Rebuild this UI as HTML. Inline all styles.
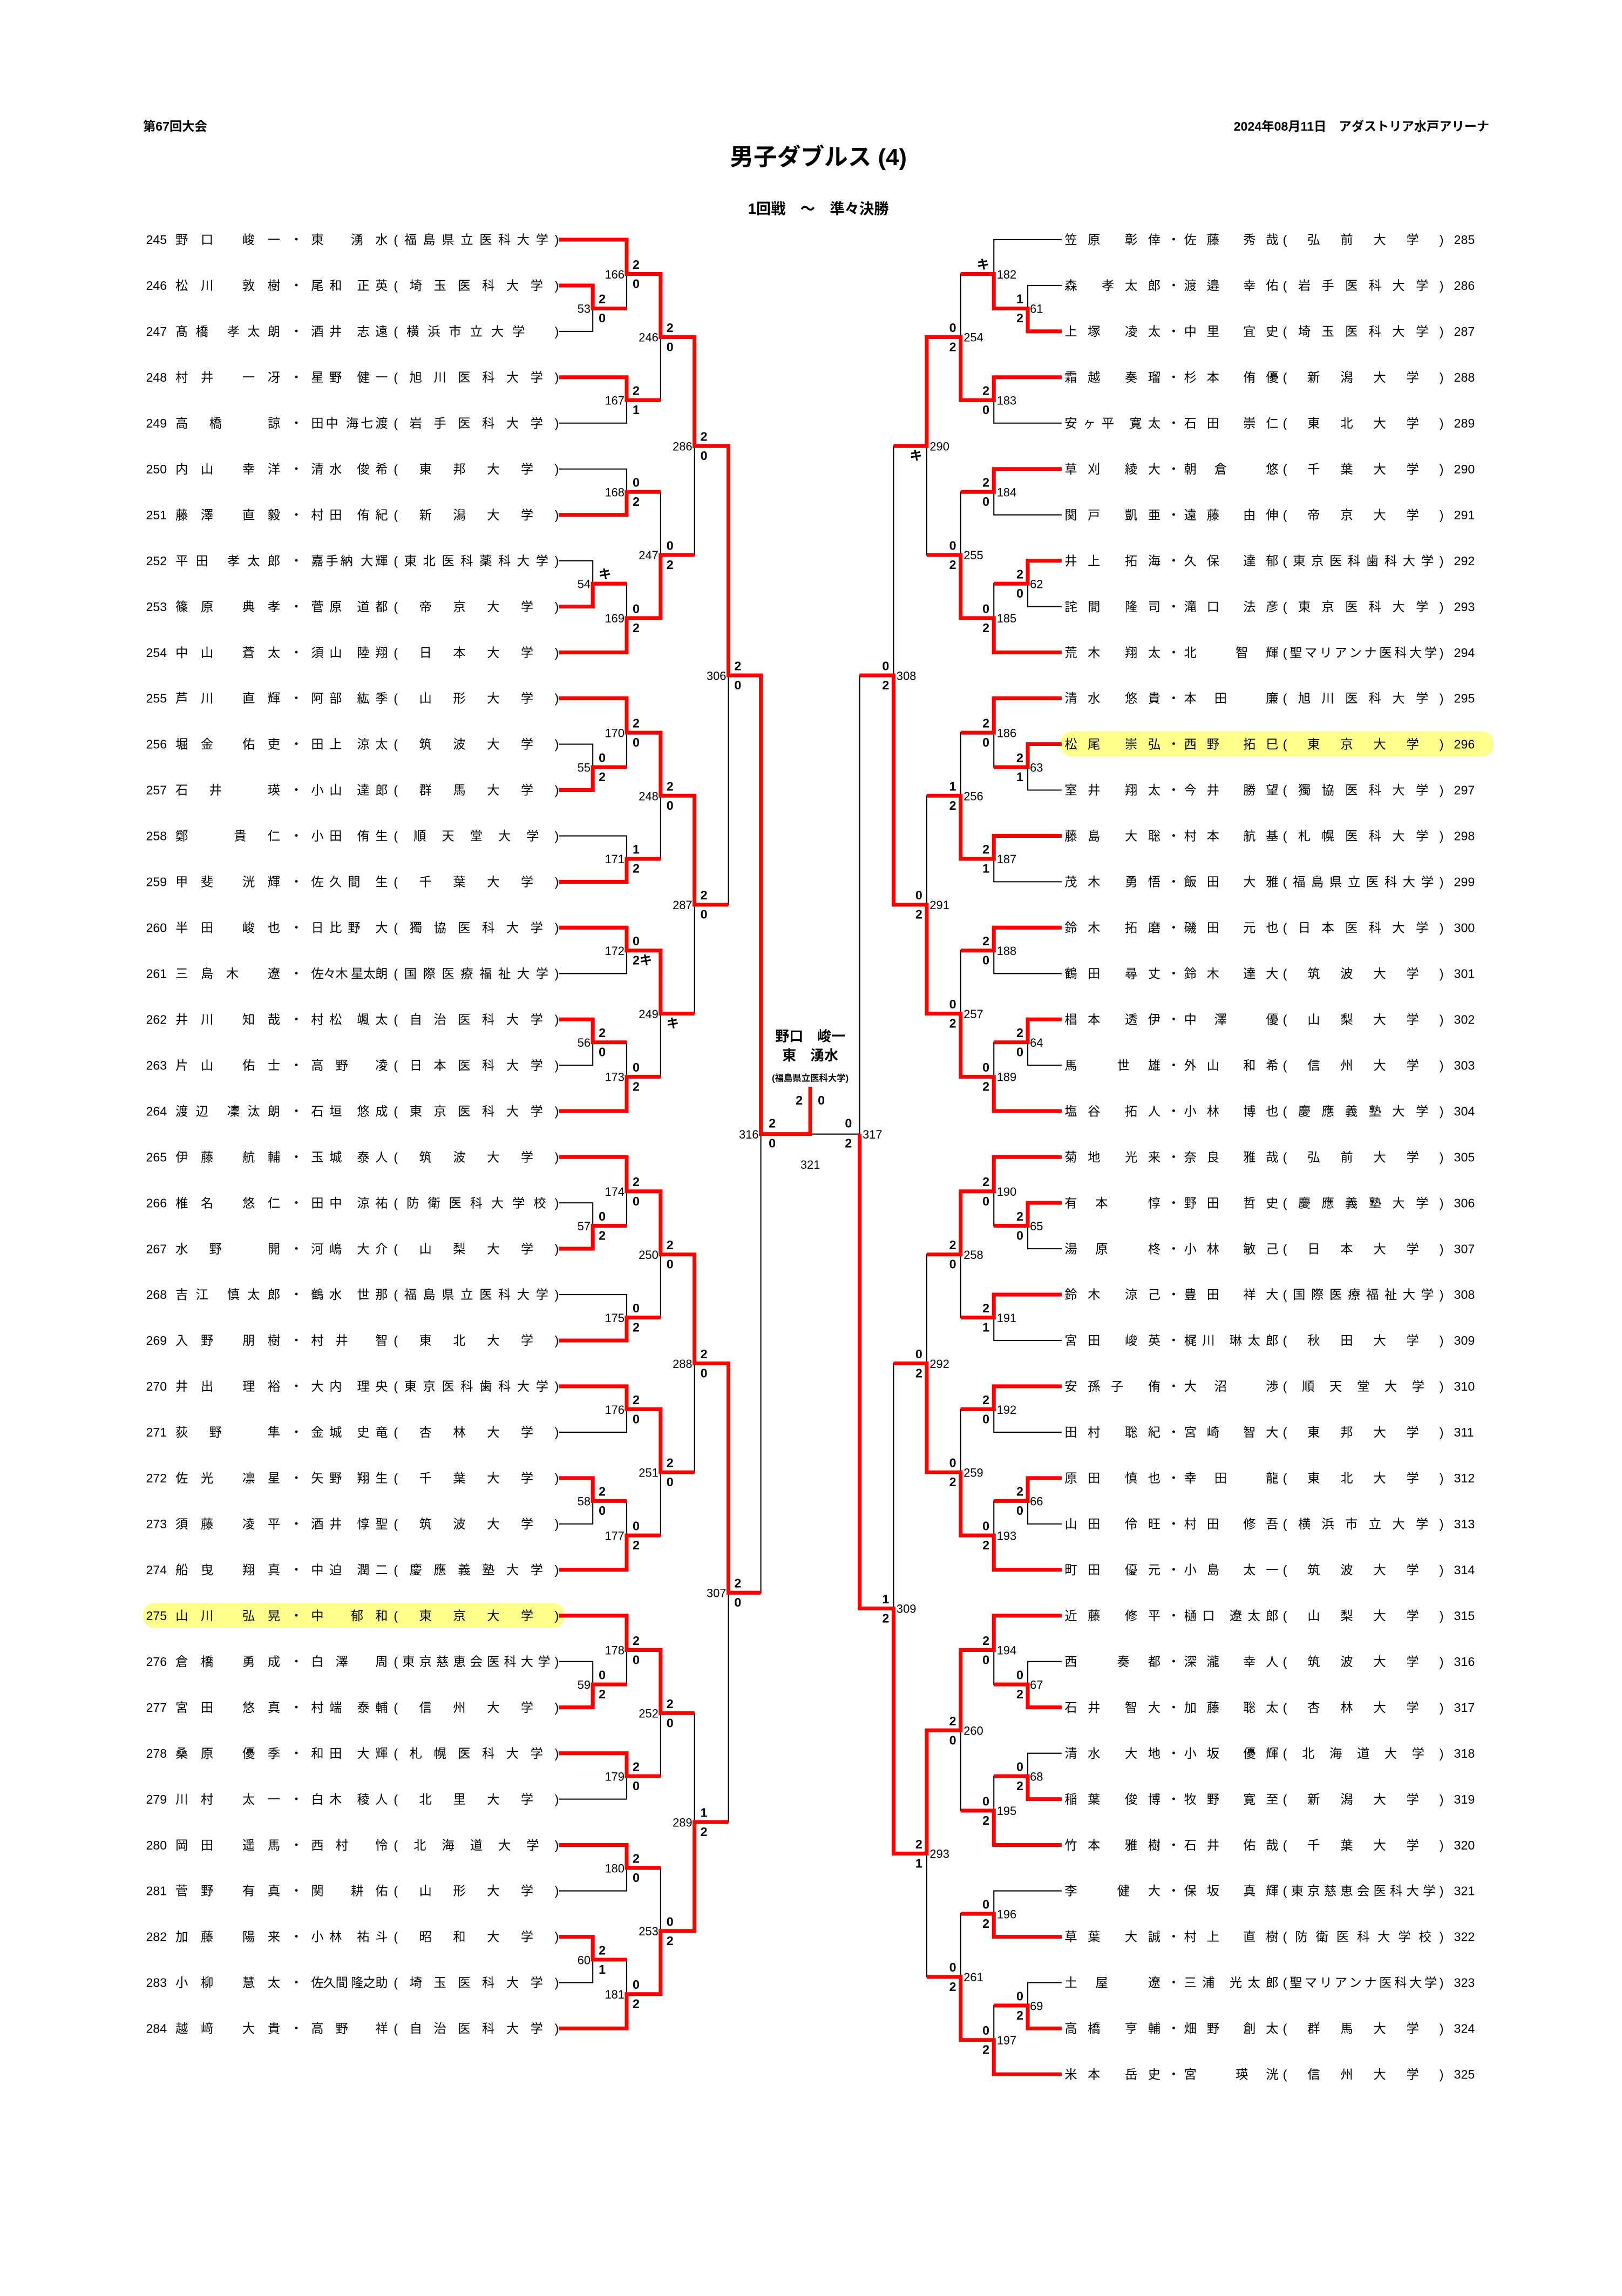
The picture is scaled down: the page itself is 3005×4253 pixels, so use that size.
<!DOCTYPE html>
<html><head><meta charset="utf-8">
<style>
html,body{margin:0;padding:0;background:#fff;}
svg{display:block;}
text{font-family:"Liberation Sans","Noto Sans CJK JP",sans-serif;fill:#000;}
.n{font-size:8.5px;}
.u{font-size:8.5px;}
.s{font-size:8.5px;font-weight:bold;}
.l{font-size:8px;}
.b{fill:none;stroke:#000;stroke-width:0.75;}
.r{fill:none;stroke:#ff0000;stroke-width:2.6;stroke-linejoin:miter;}
</style></head>
<body>
<svg width="3005" height="4253" viewBox="0 0 1100 1556.8" preserveAspectRatio="none" xmlns="http://www.w3.org/2000/svg">
<rect x="0" y="0" width="1100" height="1556.8" fill="#fff"/>
<!-- header -->
<text x="97" y="88.5" style="font-size:8.5px;font-weight:bold">第67回大会</text>
<text x="1010" y="88.5" text-anchor="end" style="font-size:8.5px;font-weight:bold">2024年08月11日　アダストリア水戸アリーナ</text>
<text x="555" y="112" text-anchor="middle" style="font-size:16px;font-weight:bold">男子ダブルス (4)</text>
<text x="555" y="145" text-anchor="middle" style="font-size:10px;font-weight:bold">1回戦　～　準々決勝</text>

<!-- highlights -->
<rect x="97" y="1087" width="286" height="17" rx="8" fill="#ffff8c"/>
<rect x="719" y="496" width="294" height="17" rx="8" fill="#ffff8c"/>

<!-- black bracket lines -->
<g class="b">
<path d="M379,193.6H402V224.7H379"/>
<path d="M379,162.5H425V209.15H402"/>
<path d="M379,255.8H425V286.9H379"/>
<path d="M425,185.8H448V271.35H425"/>
<path d="M379,318H425V349.1H379"/>
<path d="M379,380.2H402V411.3H379"/>
<path d="M402,395.75H425V442.4H379"/>
<path d="M425,333.55H448V419.1H425"/>
<path d="M448,228.6H471V376.3H448"/>
<path d="M379,504.6H402V535.7H379"/>
<path d="M379,473.5H425V520.15H402"/>
<path d="M379,566.8H425V597.9H379"/>
<path d="M425,496.8H448V582.35H425"/>
<path d="M379,629H425V660.1H379"/>
<path d="M379,691.2H402V722.3H379"/>
<path d="M402,706.75H425V753.4H379"/>
<path d="M425,644.55H448V730.1H425"/>
<path d="M448,539.6H471V687.3H448"/>
<path d="M471,302.45H494V613.45H471"/>
<path d="M379,815.6H402V846.7H379"/>
<path d="M379,784.5H425V831.15H402"/>
<path d="M379,877.8H425V908.9H379"/>
<path d="M425,807.8H448V893.35H425"/>
<path d="M379,940H425V971.1H379"/>
<path d="M379,1002.2H402V1033.3H379"/>
<path d="M402,1017.75H425V1064.4H379"/>
<path d="M425,955.55H448V1041.1H425"/>
<path d="M448,850.6H471V998.3H448"/>
<path d="M379,1126.6H402V1157.7H379"/>
<path d="M379,1095.5H425V1142.15H402"/>
<path d="M379,1188.8H425V1219.9H379"/>
<path d="M425,1118.8H448V1204.35H425"/>
<path d="M379,1251H425V1282.1H379"/>
<path d="M379,1313.2H402V1344.3H379"/>
<path d="M402,1328.75H425V1375.4H379"/>
<path d="M425,1266.55H448V1352.1H425"/>
<path d="M448,1161.6H471V1309.3H448"/>
<path d="M471,924.45H494V1235.45H471"/>
<path d="M494,457.95H516V1079.95H494"/>
<path d="M516,768.95H583"/>

<path d="M720,193.6H697V224.7H720"/>
<path d="M720,162.5H674V209.15H697"/>
<path d="M720,255.8H674V286.9H720"/>
<path d="M674,185.8H651.5V271.35H674"/>
<path d="M720,318H674V349.1H720"/>
<path d="M720,380.2H697V411.3H720"/>
<path d="M697,395.75H674V442.4H720"/>
<path d="M674,333.55H651.5V419.1H674"/>
<path d="M651.5,228.6H628.5V376.3H651.5"/>
<path d="M720,504.6H697V535.7H720"/>
<path d="M720,473.5H674V520.15H697"/>
<path d="M720,566.8H674V597.9H720"/>
<path d="M674,496.8H651.5V582.35H674"/>
<path d="M720,629H674V660.1H720"/>
<path d="M720,691.2H697V722.3H720"/>
<path d="M697,706.75H674V753.4H720"/>
<path d="M674,644.55H651.5V730.1H674"/>
<path d="M651.5,539.6H628.5V687.3H651.5"/>
<path d="M628.5,302.45H606V613.45H628.5"/>
<path d="M720,815.6H697V846.7H720"/>
<path d="M720,784.5H674V831.15H697"/>
<path d="M720,877.8H674V908.9H720"/>
<path d="M674,807.8H651.5V893.35H674"/>
<path d="M720,940H674V971.1H720"/>
<path d="M720,1002.2H697V1033.3H720"/>
<path d="M697,1017.75H674V1064.4H720"/>
<path d="M674,955.55H651.5V1041.1H674"/>
<path d="M651.5,850.6H628.5V998.3H651.5"/>
<path d="M720,1126.6H697V1157.7H720"/>
<path d="M720,1095.5H674V1142.15H697"/>
<path d="M720,1188.8H697V1219.9H720"/>
<path d="M697,1204.35H674V1251H720"/>
<path d="M674,1118.8H651.5V1227.7H674"/>
<path d="M720,1282.1H674V1313.2H720"/>
<path d="M720,1344.3H697V1375.4H720"/>
<path d="M697,1359.85H674V1406.5H720"/>
<path d="M674,1297.65H651.5V1383.2H674"/>
<path d="M651.5,1173.25H628.5V1340.4H651.5"/>
<path d="M628.5,924.45H606V1256.8H628.5"/>
<path d="M606,457.95H583V1090.6H606"/>
</g>

<!-- red winner paths -->
<g class="r">
<path d="M379,162.5H425V185.8H448V228.6H471V302.45H494V457.95H516V768.95H549.5V737"/>
<path d="M379,193.6H402V209.15H425"/>
<path d="M379,255.8H425V271.35H448"/>
<path d="M379,349.1H425V333.55H448"/>
<path d="M379,411.3H402V395.75H425"/>
<path d="M379,442.4H425V419.1H448V376.3H471"/>
<path d="M379,473.5H425V496.8H448V539.6H471V613.45H494"/>
<path d="M379,535.7H402V520.15H425"/>
<path d="M379,597.9H425V582.35H448"/>
<path d="M379,629H425V644.55H448V687.3H471"/>
<path d="M379,691.2H402V706.75H425"/>
<path d="M379,753.4H425V730.1H448"/>
<path d="M379,784.5H425V807.8H448V850.6H471V924.45H494V1079.95H516"/>
<path d="M379,846.7H402V831.15H425"/>
<path d="M379,908.9H425V893.35H448"/>
<path d="M379,940H425V955.55H448V998.3H471"/>
<path d="M379,1002.2H402V1017.75H425"/>
<path d="M379,1064.4H425V1041.1H448"/>
<path d="M379,1095.5H425V1118.8H448V1161.6H471"/>
<path d="M379,1157.7H402V1142.15H425"/>
<path d="M379,1188.8H425V1204.35H448"/>
<path d="M379,1251H425V1266.55H448"/>
<path d="M379,1313.2H402V1328.75H425"/>
<path d="M379,1375.4H425V1352.1H448V1309.3H471V1235.45H494"/>

<path d="M720,224.7H697V209.15H674V185.8H651.5"/>
<path d="M720,255.8H674V271.35H651.5V228.6H628.5V302.45H606"/>
<path d="M720,318H674V333.55H651.5"/>
<path d="M720,380.2H697V395.75H674"/>
<path d="M720,442.4H674V419.1H651.5V376.3H628.5"/>
<path d="M720,473.5H674V496.8H651.5"/>
<path d="M720,504.6H697V520.15H674"/>
<path d="M720,566.8H674V582.35H651.5V539.6H628.5"/>
<path d="M720,629H674V644.55H651.5"/>
<path d="M720,691.2H697V706.75H674"/>
<path d="M720,753.4H674V730.1H651.5V687.3H628.5V613.45H606V457.95H583"/>
<path d="M720,784.5H674V807.8H651.5V850.6H628.5"/>
<path d="M720,815.6H697V831.15H674"/>
<path d="M720,877.8H674V893.35H651.5"/>
<path d="M720,940H674V955.55H651.5"/>
<path d="M720,1002.2H697V1017.75H674"/>
<path d="M720,1064.4H674V1041.1H651.5V998.3H628.5V924.45H606"/>
<path d="M720,1095.5H674V1118.8H651.5V1173.25H628.5V1256.8H606V1090.6H583V768.95"/>
<path d="M720,1157.7H697V1142.15H674"/>
<path d="M720,1219.9H697V1204.35H674"/>
<path d="M720,1251H674V1227.7H651.5"/>
<path d="M720,1313.2H674V1297.65H651.5"/>
<path d="M720,1375.4H697V1359.85H674"/>
<path d="M720,1406.5H674V1383.2H651.5V1340.4H628.5"/>
</g>

<!-- left names -->
<g class="n">
<text x="99" y="165.5">245</text><text x="119" y="165.5" textLength="71" lengthAdjust="spacing">野口 峻一</text><text x="201" y="165.5" text-anchor="middle">・</text><text x="211" y="165.5" textLength="52" lengthAdjust="spacing">東 湧水</text><text x="267" y="165.5" textLength="112" lengthAdjust="spacing">(福島県立医科大学)</text>
<text x="99" y="196.6">246</text><text x="119" y="196.6" textLength="71" lengthAdjust="spacing">松川 敦樹</text><text x="201" y="196.6" text-anchor="middle">・</text><text x="211" y="196.6" textLength="52" lengthAdjust="spacing">尾和 正英</text><text x="267" y="196.6" textLength="112" lengthAdjust="spacing">(埼玉医科大学)</text>
<text x="99" y="227.7">247</text><text x="119" y="227.7" textLength="71" lengthAdjust="spacing">髙橋 孝太朗</text><text x="201" y="227.7" text-anchor="middle">・</text><text x="211" y="227.7" textLength="52" lengthAdjust="spacing">酒井 志遠</text><text x="267" y="227.7" textLength="112" lengthAdjust="spacing">(横浜市立大学　)</text>
<text x="99" y="258.8">248</text><text x="119" y="258.8" textLength="71" lengthAdjust="spacing">村井 一冴</text><text x="201" y="258.8" text-anchor="middle">・</text><text x="211" y="258.8" textLength="52" lengthAdjust="spacing">星野 健一</text><text x="267" y="258.8" textLength="112" lengthAdjust="spacing">(旭川医科大学)</text>
<text x="99" y="289.9">249</text><text x="119" y="289.9" textLength="71" lengthAdjust="spacing">高橋 諒</text><text x="201" y="289.9" text-anchor="middle">・</text><text x="211" y="289.9" textLength="52" lengthAdjust="spacing">田中 海七渡</text><text x="267" y="289.9" textLength="112" lengthAdjust="spacing">(岩手医科大学)</text>
<text x="99" y="321">250</text><text x="119" y="321" textLength="71" lengthAdjust="spacing">内山 幸洋</text><text x="201" y="321" text-anchor="middle">・</text><text x="211" y="321" textLength="52" lengthAdjust="spacing">清水 俊希</text><text x="267" y="321" textLength="112" lengthAdjust="spacing">(東邦大学)</text>
<text x="99" y="352.1">251</text><text x="119" y="352.1" textLength="71" lengthAdjust="spacing">藤澤 直毅</text><text x="201" y="352.1" text-anchor="middle">・</text><text x="211" y="352.1" textLength="52" lengthAdjust="spacing">村田 侑紀</text><text x="267" y="352.1" textLength="112" lengthAdjust="spacing">(新潟大学)</text>
<text x="99" y="383.2">252</text><text x="119" y="383.2" textLength="71" lengthAdjust="spacing">平田 孝太郎</text><text x="201" y="383.2" text-anchor="middle">・</text><text x="211" y="383.2" textLength="52" lengthAdjust="spacing">嘉手納 大輝</text><text x="267" y="383.2" textLength="112" lengthAdjust="spacing">(東北医科薬科大学)</text>
<text x="99" y="414.3">253</text><text x="119" y="414.3" textLength="71" lengthAdjust="spacing">篠原 典孝</text><text x="201" y="414.3" text-anchor="middle">・</text><text x="211" y="414.3" textLength="52" lengthAdjust="spacing">菅原 道都</text><text x="267" y="414.3" textLength="112" lengthAdjust="spacing">(帝京大学)</text>
<text x="99" y="445.4">254</text><text x="119" y="445.4" textLength="71" lengthAdjust="spacing">中山 蒼太</text><text x="201" y="445.4" text-anchor="middle">・</text><text x="211" y="445.4" textLength="52" lengthAdjust="spacing">須山 陸翔</text><text x="267" y="445.4" textLength="112" lengthAdjust="spacing">(日本大学)</text>
<text x="99" y="476.5">255</text><text x="119" y="476.5" textLength="71" lengthAdjust="spacing">芦川 直輝</text><text x="201" y="476.5" text-anchor="middle">・</text><text x="211" y="476.5" textLength="52" lengthAdjust="spacing">阿部 紘季</text><text x="267" y="476.5" textLength="112" lengthAdjust="spacing">(山形大学)</text>
<text x="99" y="507.6">256</text><text x="119" y="507.6" textLength="71" lengthAdjust="spacing">堀金 佑吏</text><text x="201" y="507.6" text-anchor="middle">・</text><text x="211" y="507.6" textLength="52" lengthAdjust="spacing">田上 涼太</text><text x="267" y="507.6" textLength="112" lengthAdjust="spacing">(筑波大学)</text>
<text x="99" y="538.7">257</text><text x="119" y="538.7" textLength="71" lengthAdjust="spacing">石井 瑛</text><text x="201" y="538.7" text-anchor="middle">・</text><text x="211" y="538.7" textLength="52" lengthAdjust="spacing">小山 達郎</text><text x="267" y="538.7" textLength="112" lengthAdjust="spacing">(群馬大学)</text>
<text x="99" y="569.8">258</text><text x="119" y="569.8" textLength="71" lengthAdjust="spacing">鄭 貴仁</text><text x="201" y="569.8" text-anchor="middle">・</text><text x="211" y="569.8" textLength="52" lengthAdjust="spacing">小田 侑生</text><text x="267" y="569.8" textLength="112" lengthAdjust="spacing">(順天堂大学)</text>
<text x="99" y="600.9">259</text><text x="119" y="600.9" textLength="71" lengthAdjust="spacing">甲斐 洸輝</text><text x="201" y="600.9" text-anchor="middle">・</text><text x="211" y="600.9" textLength="52" lengthAdjust="spacing">佐久間 生</text><text x="267" y="600.9" textLength="112" lengthAdjust="spacing">(千葉大学)</text>
<text x="99" y="632">260</text><text x="119" y="632" textLength="71" lengthAdjust="spacing">半田 峻也</text><text x="201" y="632" text-anchor="middle">・</text><text x="211" y="632" textLength="52" lengthAdjust="spacing">日比野 大</text><text x="267" y="632" textLength="112" lengthAdjust="spacing">(獨協医科大学)</text>
<text x="99" y="663.1">261</text><text x="119" y="663.1" textLength="71" lengthAdjust="spacing">三島木 遼</text><text x="201" y="663.1" text-anchor="middle">・</text><text x="211" y="663.1" textLength="52" lengthAdjust="spacing">佐々木 星太朗</text><text x="267" y="663.1" textLength="112" lengthAdjust="spacing">(国際医療福祉大学)</text>
<text x="99" y="694.2">262</text><text x="119" y="694.2" textLength="71" lengthAdjust="spacing">井川 知哉</text><text x="201" y="694.2" text-anchor="middle">・</text><text x="211" y="694.2" textLength="52" lengthAdjust="spacing">村松 颯太</text><text x="267" y="694.2" textLength="112" lengthAdjust="spacing">(自治医科大学)</text>
<text x="99" y="725.3">263</text><text x="119" y="725.3" textLength="71" lengthAdjust="spacing">片山 佑士</text><text x="201" y="725.3" text-anchor="middle">・</text><text x="211" y="725.3" textLength="52" lengthAdjust="spacing">高野 凌</text><text x="267" y="725.3" textLength="112" lengthAdjust="spacing">(日本医科大学)</text>
<text x="99" y="756.4">264</text><text x="119" y="756.4" textLength="71" lengthAdjust="spacing">渡辺 凜汰朗</text><text x="201" y="756.4" text-anchor="middle">・</text><text x="211" y="756.4" textLength="52" lengthAdjust="spacing">石垣 悠成</text><text x="267" y="756.4" textLength="112" lengthAdjust="spacing">(東京医科大学)</text>
<text x="99" y="787.5">265</text><text x="119" y="787.5" textLength="71" lengthAdjust="spacing">伊藤 航輔</text><text x="201" y="787.5" text-anchor="middle">・</text><text x="211" y="787.5" textLength="52" lengthAdjust="spacing">玉城 泰人</text><text x="267" y="787.5" textLength="112" lengthAdjust="spacing">(筑波大学)</text>
<text x="99" y="818.6">266</text><text x="119" y="818.6" textLength="71" lengthAdjust="spacing">椎名 悠仁</text><text x="201" y="818.6" text-anchor="middle">・</text><text x="211" y="818.6" textLength="52" lengthAdjust="spacing">田中 涼祐</text><text x="267" y="818.6" textLength="112" lengthAdjust="spacing">(防衛医科大学校)</text>
<text x="99" y="849.7">267</text><text x="119" y="849.7" textLength="71" lengthAdjust="spacing">水野 開</text><text x="201" y="849.7" text-anchor="middle">・</text><text x="211" y="849.7" textLength="52" lengthAdjust="spacing">河嶋 大介</text><text x="267" y="849.7" textLength="112" lengthAdjust="spacing">(山梨大学)</text>
<text x="99" y="880.8">268</text><text x="119" y="880.8" textLength="71" lengthAdjust="spacing">吉江 慎太郎</text><text x="201" y="880.8" text-anchor="middle">・</text><text x="211" y="880.8" textLength="52" lengthAdjust="spacing">鶴水 世那</text><text x="267" y="880.8" textLength="112" lengthAdjust="spacing">(福島県立医科大学)</text>
<text x="99" y="911.9">269</text><text x="119" y="911.9" textLength="71" lengthAdjust="spacing">入野 朋樹</text><text x="201" y="911.9" text-anchor="middle">・</text><text x="211" y="911.9" textLength="52" lengthAdjust="spacing">村井 智</text><text x="267" y="911.9" textLength="112" lengthAdjust="spacing">(東北大学)</text>
<text x="99" y="943">270</text><text x="119" y="943" textLength="71" lengthAdjust="spacing">井出 理裕</text><text x="201" y="943" text-anchor="middle">・</text><text x="211" y="943" textLength="52" lengthAdjust="spacing">大内 理央</text><text x="267" y="943" textLength="112" lengthAdjust="spacing">(東京医科歯科大学)</text>
<text x="99" y="974.1">271</text><text x="119" y="974.1" textLength="71" lengthAdjust="spacing">荻野 隼</text><text x="201" y="974.1" text-anchor="middle">・</text><text x="211" y="974.1" textLength="52" lengthAdjust="spacing">金城 史竜</text><text x="267" y="974.1" textLength="112" lengthAdjust="spacing">(杏林大学)</text>
<text x="99" y="1005.2">272</text><text x="119" y="1005.2" textLength="71" lengthAdjust="spacing">佐光 凛星</text><text x="201" y="1005.2" text-anchor="middle">・</text><text x="211" y="1005.2" textLength="52" lengthAdjust="spacing">矢野 翔生</text><text x="267" y="1005.2" textLength="112" lengthAdjust="spacing">(千葉大学)</text>
<text x="99" y="1036.3">273</text><text x="119" y="1036.3" textLength="71" lengthAdjust="spacing">須藤 凌平</text><text x="201" y="1036.3" text-anchor="middle">・</text><text x="211" y="1036.3" textLength="52" lengthAdjust="spacing">酒井 惇聖</text><text x="267" y="1036.3" textLength="112" lengthAdjust="spacing">(筑波大学)</text>
<text x="99" y="1067.4">274</text><text x="119" y="1067.4" textLength="71" lengthAdjust="spacing">船曳 翔真</text><text x="201" y="1067.4" text-anchor="middle">・</text><text x="211" y="1067.4" textLength="52" lengthAdjust="spacing">中迫 潤二</text><text x="267" y="1067.4" textLength="112" lengthAdjust="spacing">(慶應義塾大学)</text>
<text x="99" y="1098.5">275</text><text x="119" y="1098.5" textLength="71" lengthAdjust="spacing">山川 弘晃</text><text x="201" y="1098.5" text-anchor="middle">・</text><text x="211" y="1098.5" textLength="52" lengthAdjust="spacing">中 郁和</text><text x="267" y="1098.5" textLength="112" lengthAdjust="spacing">(東京大学)</text>
<text x="99" y="1129.6">276</text><text x="119" y="1129.6" textLength="71" lengthAdjust="spacing">倉橋 勇成</text><text x="201" y="1129.6" text-anchor="middle">・</text><text x="211" y="1129.6" textLength="52" lengthAdjust="spacing">白澤 周</text><text x="267" y="1129.6" textLength="112" lengthAdjust="spacing">(東京慈恵会医科大学)</text>
<text x="99" y="1160.7">277</text><text x="119" y="1160.7" textLength="71" lengthAdjust="spacing">宮田 悠真</text><text x="201" y="1160.7" text-anchor="middle">・</text><text x="211" y="1160.7" textLength="52" lengthAdjust="spacing">村端 泰輔</text><text x="267" y="1160.7" textLength="112" lengthAdjust="spacing">(信州大学)</text>
<text x="99" y="1191.8">278</text><text x="119" y="1191.8" textLength="71" lengthAdjust="spacing">桑原 優季</text><text x="201" y="1191.8" text-anchor="middle">・</text><text x="211" y="1191.8" textLength="52" lengthAdjust="spacing">和田 大輝</text><text x="267" y="1191.8" textLength="112" lengthAdjust="spacing">(札幌医科大学)</text>
<text x="99" y="1222.9">279</text><text x="119" y="1222.9" textLength="71" lengthAdjust="spacing">川村 太一</text><text x="201" y="1222.9" text-anchor="middle">・</text><text x="211" y="1222.9" textLength="52" lengthAdjust="spacing">白木 稜人</text><text x="267" y="1222.9" textLength="112" lengthAdjust="spacing">(北里大学)</text>
<text x="99" y="1254">280</text><text x="119" y="1254" textLength="71" lengthAdjust="spacing">岡田 遥馬</text><text x="201" y="1254" text-anchor="middle">・</text><text x="211" y="1254" textLength="52" lengthAdjust="spacing">西村 怜</text><text x="267" y="1254" textLength="112" lengthAdjust="spacing">(北海道大学)</text>
<text x="99" y="1285.1">281</text><text x="119" y="1285.1" textLength="71" lengthAdjust="spacing">菅野 有真</text><text x="201" y="1285.1" text-anchor="middle">・</text><text x="211" y="1285.1" textLength="52" lengthAdjust="spacing">関 耕佑</text><text x="267" y="1285.1" textLength="112" lengthAdjust="spacing">(山形大学)</text>
<text x="99" y="1316.2">282</text><text x="119" y="1316.2" textLength="71" lengthAdjust="spacing">加藤 陽来</text><text x="201" y="1316.2" text-anchor="middle">・</text><text x="211" y="1316.2" textLength="52" lengthAdjust="spacing">小林 祐斗</text><text x="267" y="1316.2" textLength="112" lengthAdjust="spacing">(昭和大学)</text>
<text x="99" y="1347.3">283</text><text x="119" y="1347.3" textLength="71" lengthAdjust="spacing">小柳 慧太</text><text x="201" y="1347.3" text-anchor="middle">・</text><text x="211" y="1347.3" textLength="52" lengthAdjust="spacing">佐久間 隆之助</text><text x="267" y="1347.3" textLength="112" lengthAdjust="spacing">(埼玉医科大学)</text>
<text x="99" y="1378.4">284</text><text x="119" y="1378.4" textLength="71" lengthAdjust="spacing">越﨑 大貴</text><text x="201" y="1378.4" text-anchor="middle">・</text><text x="211" y="1378.4" textLength="52" lengthAdjust="spacing">高野 祥</text><text x="267" y="1378.4" textLength="112" lengthAdjust="spacing">(自治医科大学)</text>
</g>

<!-- right names -->
<g class="n">
<text x="722" y="165.5" textLength="65" lengthAdjust="spacing">笠原 彰倖</text><text x="796" y="165.5" text-anchor="middle">・</text><text x="803" y="165.5" textLength="64" lengthAdjust="spacing">佐藤 秀哉</text><text x="870" y="165.5" textLength="109" lengthAdjust="spacing">(弘前大学)</text><text x="986" y="165.5">285</text>
<text x="722" y="196.6" textLength="65" lengthAdjust="spacing">森 孝太郎</text><text x="796" y="196.6" text-anchor="middle">・</text><text x="803" y="196.6" textLength="64" lengthAdjust="spacing">渡邉 幸佑</text><text x="870" y="196.6" textLength="109" lengthAdjust="spacing">(岩手医科大学)</text><text x="986" y="196.6">286</text>
<text x="722" y="227.7" textLength="65" lengthAdjust="spacing">上塚 凌太</text><text x="796" y="227.7" text-anchor="middle">・</text><text x="803" y="227.7" textLength="64" lengthAdjust="spacing">中里 宜史</text><text x="870" y="227.7" textLength="109" lengthAdjust="spacing">(埼玉医科大学)</text><text x="986" y="227.7">287</text>
<text x="722" y="258.8" textLength="65" lengthAdjust="spacing">霜越 奏瑠</text><text x="796" y="258.8" text-anchor="middle">・</text><text x="803" y="258.8" textLength="64" lengthAdjust="spacing">杉本 侑優</text><text x="870" y="258.8" textLength="109" lengthAdjust="spacing">(新潟大学)</text><text x="986" y="258.8">288</text>
<text x="722" y="289.9" textLength="65" lengthAdjust="spacing">安ヶ平 寛太</text><text x="796" y="289.9" text-anchor="middle">・</text><text x="803" y="289.9" textLength="64" lengthAdjust="spacing">石田 崇仁</text><text x="870" y="289.9" textLength="109" lengthAdjust="spacing">(東北大学)</text><text x="986" y="289.9">289</text>
<text x="722" y="321" textLength="65" lengthAdjust="spacing">草刈 綾大</text><text x="796" y="321" text-anchor="middle">・</text><text x="803" y="321" textLength="64" lengthAdjust="spacing">朝倉 悠</text><text x="870" y="321" textLength="109" lengthAdjust="spacing">(千葉大学)</text><text x="986" y="321">290</text>
<text x="722" y="352.1" textLength="65" lengthAdjust="spacing">関戸 凱亜</text><text x="796" y="352.1" text-anchor="middle">・</text><text x="803" y="352.1" textLength="64" lengthAdjust="spacing">遠藤 由伸</text><text x="870" y="352.1" textLength="109" lengthAdjust="spacing">(帝京大学)</text><text x="986" y="352.1">291</text>
<text x="722" y="383.2" textLength="65" lengthAdjust="spacing">井上 拓海</text><text x="796" y="383.2" text-anchor="middle">・</text><text x="803" y="383.2" textLength="64" lengthAdjust="spacing">久保 達郁</text><text x="870" y="383.2" textLength="109" lengthAdjust="spacing">(東京医科歯科大学)</text><text x="986" y="383.2">292</text>
<text x="722" y="414.3" textLength="65" lengthAdjust="spacing">詫間 隆司</text><text x="796" y="414.3" text-anchor="middle">・</text><text x="803" y="414.3" textLength="64" lengthAdjust="spacing">滝口 法彦</text><text x="870" y="414.3" textLength="109" lengthAdjust="spacing">(東京医科大学)</text><text x="986" y="414.3">293</text>
<text x="722" y="445.4" textLength="65" lengthAdjust="spacing">荒木 翔太</text><text x="796" y="445.4" text-anchor="middle">・</text><text x="803" y="445.4" textLength="64" lengthAdjust="spacing">北 智輝</text><text x="870" y="445.4" textLength="109" lengthAdjust="spacing">(聖マリアンナ医科大学)</text><text x="986" y="445.4">294</text>
<text x="722" y="476.5" textLength="65" lengthAdjust="spacing">清水 悠貴</text><text x="796" y="476.5" text-anchor="middle">・</text><text x="803" y="476.5" textLength="64" lengthAdjust="spacing">本田 廉</text><text x="870" y="476.5" textLength="109" lengthAdjust="spacing">(旭川医科大学)</text><text x="986" y="476.5">295</text>
<text x="722" y="507.6" textLength="65" lengthAdjust="spacing">松尾 崇弘</text><text x="796" y="507.6" text-anchor="middle">・</text><text x="803" y="507.6" textLength="64" lengthAdjust="spacing">西野 拓巳</text><text x="870" y="507.6" textLength="109" lengthAdjust="spacing">(東京大学)</text><text x="986" y="507.6">296</text>
<text x="722" y="538.7" textLength="65" lengthAdjust="spacing">室井 翔太</text><text x="796" y="538.7" text-anchor="middle">・</text><text x="803" y="538.7" textLength="64" lengthAdjust="spacing">今井 勝望</text><text x="870" y="538.7" textLength="109" lengthAdjust="spacing">(獨協医科大学)</text><text x="986" y="538.7">297</text>
<text x="722" y="569.8" textLength="65" lengthAdjust="spacing">藤島 大聡</text><text x="796" y="569.8" text-anchor="middle">・</text><text x="803" y="569.8" textLength="64" lengthAdjust="spacing">村本 航基</text><text x="870" y="569.8" textLength="109" lengthAdjust="spacing">(札幌医科大学)</text><text x="986" y="569.8">298</text>
<text x="722" y="600.9" textLength="65" lengthAdjust="spacing">茂木 勇悟</text><text x="796" y="600.9" text-anchor="middle">・</text><text x="803" y="600.9" textLength="64" lengthAdjust="spacing">飯田 大雅</text><text x="870" y="600.9" textLength="109" lengthAdjust="spacing">(福島県立医科大学)</text><text x="986" y="600.9">299</text>
<text x="722" y="632" textLength="65" lengthAdjust="spacing">鈴木 拓磨</text><text x="796" y="632" text-anchor="middle">・</text><text x="803" y="632" textLength="64" lengthAdjust="spacing">磯田 元也</text><text x="870" y="632" textLength="109" lengthAdjust="spacing">(日本医科大学)</text><text x="986" y="632">300</text>
<text x="722" y="663.1" textLength="65" lengthAdjust="spacing">鶴田 尋丈</text><text x="796" y="663.1" text-anchor="middle">・</text><text x="803" y="663.1" textLength="64" lengthAdjust="spacing">鈴木 達大</text><text x="870" y="663.1" textLength="109" lengthAdjust="spacing">(筑波大学)</text><text x="986" y="663.1">301</text>
<text x="722" y="694.2" textLength="65" lengthAdjust="spacing">椙本 透伊</text><text x="796" y="694.2" text-anchor="middle">・</text><text x="803" y="694.2" textLength="64" lengthAdjust="spacing">中澤 優</text><text x="870" y="694.2" textLength="109" lengthAdjust="spacing">(山梨大学)</text><text x="986" y="694.2">302</text>
<text x="722" y="725.3" textLength="65" lengthAdjust="spacing">馬 世雄</text><text x="796" y="725.3" text-anchor="middle">・</text><text x="803" y="725.3" textLength="64" lengthAdjust="spacing">外山 和希</text><text x="870" y="725.3" textLength="109" lengthAdjust="spacing">(信州大学)</text><text x="986" y="725.3">303</text>
<text x="722" y="756.4" textLength="65" lengthAdjust="spacing">塩谷 拓人</text><text x="796" y="756.4" text-anchor="middle">・</text><text x="803" y="756.4" textLength="64" lengthAdjust="spacing">小林 博也</text><text x="870" y="756.4" textLength="109" lengthAdjust="spacing">(慶應義塾大学)</text><text x="986" y="756.4">304</text>
<text x="722" y="787.5" textLength="65" lengthAdjust="spacing">菊地 光来</text><text x="796" y="787.5" text-anchor="middle">・</text><text x="803" y="787.5" textLength="64" lengthAdjust="spacing">奈良 雅哉</text><text x="870" y="787.5" textLength="109" lengthAdjust="spacing">(弘前大学)</text><text x="986" y="787.5">305</text>
<text x="722" y="818.6" textLength="65" lengthAdjust="spacing">有本 惇</text><text x="796" y="818.6" text-anchor="middle">・</text><text x="803" y="818.6" textLength="64" lengthAdjust="spacing">野田 哲史</text><text x="870" y="818.6" textLength="109" lengthAdjust="spacing">(慶應義塾大学)</text><text x="986" y="818.6">306</text>
<text x="722" y="849.7" textLength="65" lengthAdjust="spacing">湯原 柊</text><text x="796" y="849.7" text-anchor="middle">・</text><text x="803" y="849.7" textLength="64" lengthAdjust="spacing">小林 敏己</text><text x="870" y="849.7" textLength="109" lengthAdjust="spacing">(日本大学)</text><text x="986" y="849.7">307</text>
<text x="722" y="880.8" textLength="65" lengthAdjust="spacing">鈴木 涼己</text><text x="796" y="880.8" text-anchor="middle">・</text><text x="803" y="880.8" textLength="64" lengthAdjust="spacing">豊田 祥大</text><text x="870" y="880.8" textLength="109" lengthAdjust="spacing">(国際医療福祉大学)</text><text x="986" y="880.8">308</text>
<text x="722" y="911.9" textLength="65" lengthAdjust="spacing">宮田 峻英</text><text x="796" y="911.9" text-anchor="middle">・</text><text x="803" y="911.9" textLength="64" lengthAdjust="spacing">梶川 琳太郎</text><text x="870" y="911.9" textLength="109" lengthAdjust="spacing">(秋田大学)</text><text x="986" y="911.9">309</text>
<text x="722" y="943" textLength="65" lengthAdjust="spacing">安孫子 侑</text><text x="796" y="943" text-anchor="middle">・</text><text x="803" y="943" textLength="64" lengthAdjust="spacing">大沼 渉</text><text x="870" y="943" textLength="109" lengthAdjust="spacing">(順天堂大学)</text><text x="986" y="943">310</text>
<text x="722" y="974.1" textLength="65" lengthAdjust="spacing">田村 聡紀</text><text x="796" y="974.1" text-anchor="middle">・</text><text x="803" y="974.1" textLength="64" lengthAdjust="spacing">宮崎 智大</text><text x="870" y="974.1" textLength="109" lengthAdjust="spacing">(東邦大学)</text><text x="986" y="974.1">311</text>
<text x="722" y="1005.2" textLength="65" lengthAdjust="spacing">原田 慎也</text><text x="796" y="1005.2" text-anchor="middle">・</text><text x="803" y="1005.2" textLength="64" lengthAdjust="spacing">幸田 龍</text><text x="870" y="1005.2" textLength="109" lengthAdjust="spacing">(東北大学)</text><text x="986" y="1005.2">312</text>
<text x="722" y="1036.3" textLength="65" lengthAdjust="spacing">山田 伶旺</text><text x="796" y="1036.3" text-anchor="middle">・</text><text x="803" y="1036.3" textLength="64" lengthAdjust="spacing">村田 修吾</text><text x="870" y="1036.3" textLength="109" lengthAdjust="spacing">(横浜市立大学)</text><text x="986" y="1036.3">313</text>
<text x="722" y="1067.4" textLength="65" lengthAdjust="spacing">町田 優元</text><text x="796" y="1067.4" text-anchor="middle">・</text><text x="803" y="1067.4" textLength="64" lengthAdjust="spacing">小島 太一</text><text x="870" y="1067.4" textLength="109" lengthAdjust="spacing">(筑波大学)</text><text x="986" y="1067.4">314</text>
<text x="722" y="1098.5" textLength="65" lengthAdjust="spacing">近藤 修平</text><text x="796" y="1098.5" text-anchor="middle">・</text><text x="803" y="1098.5" textLength="64" lengthAdjust="spacing">樋口 遼太郎</text><text x="870" y="1098.5" textLength="109" lengthAdjust="spacing">(山梨大学)</text><text x="986" y="1098.5">315</text>
<text x="722" y="1129.6" textLength="65" lengthAdjust="spacing">西 奏都</text><text x="796" y="1129.6" text-anchor="middle">・</text><text x="803" y="1129.6" textLength="64" lengthAdjust="spacing">深瀧 幸人</text><text x="870" y="1129.6" textLength="109" lengthAdjust="spacing">(筑波大学)</text><text x="986" y="1129.6">316</text>
<text x="722" y="1160.7" textLength="65" lengthAdjust="spacing">石井 智大</text><text x="796" y="1160.7" text-anchor="middle">・</text><text x="803" y="1160.7" textLength="64" lengthAdjust="spacing">加藤 聡太</text><text x="870" y="1160.7" textLength="109" lengthAdjust="spacing">(杏林大学)</text><text x="986" y="1160.7">317</text>
<text x="722" y="1191.8" textLength="65" lengthAdjust="spacing">清水 大地</text><text x="796" y="1191.8" text-anchor="middle">・</text><text x="803" y="1191.8" textLength="64" lengthAdjust="spacing">小坂 優輝</text><text x="870" y="1191.8" textLength="109" lengthAdjust="spacing">(北海道大学)</text><text x="986" y="1191.8">318</text>
<text x="722" y="1222.9" textLength="65" lengthAdjust="spacing">稲葉 俊博</text><text x="796" y="1222.9" text-anchor="middle">・</text><text x="803" y="1222.9" textLength="64" lengthAdjust="spacing">牧野 寛至</text><text x="870" y="1222.9" textLength="109" lengthAdjust="spacing">(新潟大学)</text><text x="986" y="1222.9">319</text>
<text x="722" y="1254" textLength="65" lengthAdjust="spacing">竹本 雅樹</text><text x="796" y="1254" text-anchor="middle">・</text><text x="803" y="1254" textLength="64" lengthAdjust="spacing">石井 佑哉</text><text x="870" y="1254" textLength="109" lengthAdjust="spacing">(千葉大学)</text><text x="986" y="1254">320</text>
<text x="722" y="1285.1" textLength="65" lengthAdjust="spacing">李 健大</text><text x="796" y="1285.1" text-anchor="middle">・</text><text x="803" y="1285.1" textLength="64" lengthAdjust="spacing">保坂 真輝</text><text x="870" y="1285.1" textLength="109" lengthAdjust="spacing">(東京慈恵会医科大学)</text><text x="986" y="1285.1">321</text>
<text x="722" y="1316.2" textLength="65" lengthAdjust="spacing">草葉 大誠</text><text x="796" y="1316.2" text-anchor="middle">・</text><text x="803" y="1316.2" textLength="64" lengthAdjust="spacing">村上 直樹</text><text x="870" y="1316.2" textLength="109" lengthAdjust="spacing">(防衛医科大学校)</text><text x="986" y="1316.2">322</text>
<text x="722" y="1347.3" textLength="65" lengthAdjust="spacing">土屋 遼</text><text x="796" y="1347.3" text-anchor="middle">・</text><text x="803" y="1347.3" textLength="64" lengthAdjust="spacing">三浦 光太郎</text><text x="870" y="1347.3" textLength="109" lengthAdjust="spacing">(聖マリアンナ医科大学)</text><text x="986" y="1347.3">323</text>
<text x="722" y="1378.4" textLength="65" lengthAdjust="spacing">高橋 亨輔</text><text x="796" y="1378.4" text-anchor="middle">・</text><text x="803" y="1378.4" textLength="64" lengthAdjust="spacing">畑野 創太</text><text x="870" y="1378.4" textLength="109" lengthAdjust="spacing">(群馬大学)</text><text x="986" y="1378.4">324</text>
<text x="722" y="1409.5" textLength="65" lengthAdjust="spacing">米本 岳史</text><text x="796" y="1409.5" text-anchor="middle">・</text><text x="803" y="1409.5" textLength="64" lengthAdjust="spacing">宮 瑛洸</text><text x="870" y="1409.5" textLength="109" lengthAdjust="spacing">(信州大学)</text><text x="986" y="1409.5">325</text>
</g>

<!-- left match labels -->
<g class="l" text-anchor="end">
<text x="400.5" y="212.2">53</text>
<text x="423.5" y="188.8">166</text>
<text x="423.5" y="274.4">167</text>
<text x="446.5" y="231.6">246</text>
<text x="423.5" y="336.6">168</text>
<text x="400.5" y="398.8">54</text>
<text x="423.5" y="422.1">169</text>
<text x="446.5" y="379.3">247</text>
<text x="469.5" y="305.5">286</text>
<text x="400.5" y="523.2">55</text>
<text x="423.5" y="499.8">170</text>
<text x="423.5" y="585.4">171</text>
<text x="446.5" y="542.6">248</text>
<text x="423.5" y="647.6">172</text>
<text x="400.5" y="709.8">56</text>
<text x="423.5" y="733.1">173</text>
<text x="446.5" y="690.3">249</text>
<text x="469.5" y="616.5">287</text>
<text x="492.5" y="461">306</text>
<text x="400.5" y="834.2">57</text>
<text x="423.5" y="810.8">174</text>
<text x="423.5" y="896.4">175</text>
<text x="446.5" y="853.6">250</text>
<text x="423.5" y="958.6">176</text>
<text x="400.5" y="1020.8">58</text>
<text x="423.5" y="1044.1">177</text>
<text x="446.5" y="1001.3">251</text>
<text x="469.5" y="927.5">288</text>
<text x="400.5" y="1145.2">59</text>
<text x="423.5" y="1121.8">178</text>
<text x="423.5" y="1207.4">179</text>
<text x="446.5" y="1164.6">252</text>
<text x="423.5" y="1269.6">180</text>
<text x="400.5" y="1331.8">60</text>
<text x="423.5" y="1355.1">181</text>
<text x="446.5" y="1312.3">253</text>
<text x="469.5" y="1238.5">289</text>
<text x="492.5" y="1083">307</text>
<text x="514.5" y="772">316</text>
</g>

<!-- right match labels -->
<g class="l">
<text x="698.5" y="212.2">61</text>
<text x="676" y="188.8">182</text>
<text x="676" y="274.4">183</text>
<text x="653.5" y="231.6">254</text>
<text x="676" y="336.6">184</text>
<text x="698.5" y="398.8">62</text>
<text x="676" y="422.1">185</text>
<text x="653.5" y="379.3">255</text>
<text x="630.5" y="305.5">290</text>
<text x="698.5" y="523.2">63</text>
<text x="676" y="499.8">186</text>
<text x="676" y="585.4">187</text>
<text x="653.5" y="542.6">256</text>
<text x="676" y="647.6">188</text>
<text x="698.5" y="709.8">64</text>
<text x="676" y="733.1">189</text>
<text x="653.5" y="690.3">257</text>
<text x="630.5" y="616.5">291</text>
<text x="608" y="461">308</text>
<text x="698.5" y="834.2">65</text>
<text x="676" y="810.8">190</text>
<text x="676" y="896.4">191</text>
<text x="653.5" y="853.6">258</text>
<text x="676" y="958.6">192</text>
<text x="698.5" y="1020.8">66</text>
<text x="676" y="1044.1">193</text>
<text x="653.5" y="1001.3">259</text>
<text x="630.5" y="927.5">292</text>
<text x="698.5" y="1145.2">67</text>
<text x="676" y="1121.8">194</text>
<text x="698.5" y="1207.4">68</text>
<text x="676" y="1230.7">195</text>
<text x="653.5" y="1176.3">260</text>
<text x="676" y="1300.7">196</text>
<text x="698.5" y="1362.9">69</text>
<text x="676" y="1386.2">197</text>
<text x="653.5" y="1343.4">261</text>
<text x="630.5" y="1259.8">293</text>
<text x="608" y="1093.6">309</text>
<text x="585" y="772">317</text>
</g>

<!-- left scores (top baseline y-3.5, bottom y+9.5) -->
<g class="s">
<text x="406" y="205.6">2</text><text x="406" y="218.6">0</text>
<text x="429" y="182.3">2</text><text x="429" y="195.3">0</text>
<text x="429" y="267.8">2</text><text x="429" y="280.8">1</text>
<text x="452" y="225.1">2</text><text x="452" y="238.1">0</text>
<text x="429" y="330">0</text><text x="429" y="343">2</text>
<text x="406" y="392.2">キ</text>
<text x="429" y="415.6">0</text><text x="429" y="428.6">2</text>
<text x="452" y="372.8">0</text><text x="452" y="385.8">2</text>
<text x="475" y="298.9">2</text><text x="475" y="311.9">0</text>
<text x="406" y="516.6">0</text><text x="406" y="529.6">2</text>
<text x="429" y="493.3">2</text><text x="429" y="506.3">0</text>
<text x="429" y="578.8">1</text><text x="429" y="591.8">2</text>
<text x="452" y="536.1">2</text><text x="452" y="549.1">0</text>
<text x="429" y="641">0</text><text x="429" y="654">2キ</text>
<text x="406" y="703.2">2</text><text x="406" y="716.2">0</text>
<text x="429" y="726.6">0</text><text x="429" y="739.6">2</text>
<text x="452" y="696.8">キ</text>
<text x="475" y="609.9">2</text><text x="475" y="622.9">0</text>
<text x="498" y="454.4">2</text><text x="498" y="467.4">0</text>
<text x="406" y="827.6">0</text><text x="406" y="840.6">2</text>
<text x="429" y="804.3">2</text><text x="429" y="817.3">0</text>
<text x="429" y="889.8">0</text><text x="429" y="902.8">2</text>
<text x="452" y="847.1">2</text><text x="452" y="860.1">0</text>
<text x="429" y="952">2</text><text x="429" y="965">0</text>
<text x="406" y="1014.2">2</text><text x="406" y="1027.2">0</text>
<text x="429" y="1037.6">0</text><text x="429" y="1050.6">2</text>
<text x="452" y="994.8">2</text><text x="452" y="1007.8">0</text>
<text x="475" y="920.9">2</text><text x="475" y="933.9">0</text>
<text x="406" y="1138.6">0</text><text x="406" y="1151.6">2</text>
<text x="429" y="1115.3">2</text><text x="429" y="1128.3">0</text>
<text x="429" y="1200.8">2</text><text x="429" y="1213.8">0</text>
<text x="452" y="1158.1">2</text><text x="452" y="1171.1">0</text>
<text x="429" y="1263">2</text><text x="429" y="1276">0</text>
<text x="406" y="1325.2">2</text><text x="406" y="1338.2">1</text>
<text x="429" y="1348.6">0</text><text x="429" y="1361.6">2</text>
<text x="452" y="1305.8">0</text><text x="452" y="1318.8">2</text>
<text x="475" y="1231.9">1</text><text x="475" y="1244.9">2</text>
<text x="498" y="1076.4">2</text><text x="498" y="1089.4">0</text>
</g>

<!-- right scores -->
<g class="s" text-anchor="end">
<text x="694" y="205.6">1</text><text x="694" y="218.6">2</text>
<text x="671" y="182.3">キ</text>
<text x="671" y="267.8">2</text><text x="671" y="280.8">0</text>
<text x="648.5" y="225.1">0</text><text x="648.5" y="238.1">2</text>
<text x="671" y="330">2</text><text x="671" y="343">0</text>
<text x="694" y="392.2">2</text><text x="694" y="405.2">0</text>
<text x="671" y="415.6">0</text><text x="671" y="428.6">2</text>
<text x="648.5" y="372.8">0</text><text x="648.5" y="385.8">2</text>
<text x="625.5" y="311.9">キ</text>
<text x="694" y="516.6">2</text><text x="694" y="529.6">1</text>
<text x="671" y="493.3">2</text><text x="671" y="506.3">0</text>
<text x="671" y="578.8">2</text><text x="671" y="591.8">1</text>
<text x="648.5" y="536.1">1</text><text x="648.5" y="549.1">2</text>
<text x="671" y="641">2</text><text x="671" y="654">0</text>
<text x="694" y="703.2">2</text><text x="694" y="716.2">0</text>
<text x="671" y="726.6">0</text><text x="671" y="739.6">2</text>
<text x="648.5" y="683.8">0</text><text x="648.5" y="696.8">2</text>
<text x="625.5" y="609.9">0</text><text x="625.5" y="622.9">2</text>
<text x="603" y="454.4">0</text><text x="603" y="467.4">2</text>
<text x="694" y="827.6">2</text><text x="694" y="840.6">0</text>
<text x="671" y="804.3">2</text><text x="671" y="817.3">0</text>
<text x="671" y="889.8">2</text><text x="671" y="902.8">1</text>
<text x="648.5" y="847.1">2</text><text x="648.5" y="860.1">0</text>
<text x="671" y="952">2</text><text x="671" y="965">0</text>
<text x="694" y="1014.2">2</text><text x="694" y="1027.2">0</text>
<text x="671" y="1037.6">0</text><text x="671" y="1050.6">2</text>
<text x="648.5" y="994.8">0</text><text x="648.5" y="1007.8">2</text>
<text x="625.5" y="920.9">0</text><text x="625.5" y="933.9">2</text>
<text x="694" y="1138.6">0</text><text x="694" y="1151.6">2</text>
<text x="671" y="1115.3">2</text><text x="671" y="1128.3">0</text>
<text x="694" y="1200.8">0</text><text x="694" y="1213.8">2</text>
<text x="671" y="1224.2">0</text><text x="671" y="1237.2">2</text>
<text x="648.5" y="1169.8">2</text><text x="648.5" y="1182.8">0</text>
<text x="671" y="1294.2">0</text><text x="671" y="1307.2">2</text>
<text x="694" y="1356.4">0</text><text x="694" y="1369.4">2</text>
<text x="671" y="1379.7">0</text><text x="671" y="1392.7">2</text>
<text x="648.5" y="1336.9">0</text><text x="648.5" y="1349.9">2</text>
<text x="625.5" y="1253.3">2</text><text x="625.5" y="1266.3">1</text>
<text x="603" y="1087.1">1</text><text x="603" y="1100.1">2</text>
</g>

<!-- final -->
<g text-anchor="middle">
<text x="549.5" y="706" style="font-size:9.5px;font-weight:bold">野口　峻一</text>
<text x="549.5" y="719" style="font-size:9.5px;font-weight:bold">東　湧水</text>
<text x="549.5" y="733" style="font-size:6px;font-weight:bold">(福島県立医科大学)</text>
<text class="s" x="542" y="749">2</text>
<text class="s" x="557" y="749">0</text>
<text class="s" x="523.7" y="764.5">2</text>
<text class="s" x="523.7" y="778">0</text>
<text class="s" x="575.4" y="764.5">0</text>
<text class="s" x="575.4" y="778">2</text>
<text class="l" x="549.5" y="792.5">321</text>
</g>
</svg>
</body></html>
